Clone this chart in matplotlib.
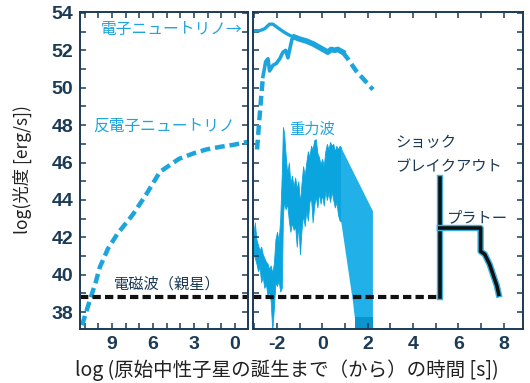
import matplotlib
matplotlib.use('Agg')
import matplotlib.pyplot as plt
import matplotlib.patheffects as pe
from matplotlib.ticker import MultipleLocator
import numpy as np

plt.rcParams['axes.unicode_minus'] = False

CJK = ['Noto Sans CJK JP', 'DejaVu Sans']
NAVY = '#1b3a55'
CYAN = '#1ca5dd'
GWC = '#0aa5df'

# anti-electron neutrino before birth (left panel, log time before birth)
anti_pre_x = [11.2, 10.9, 10.6, 10.2, 9.9, 9.3, 8.6, 7.5, 6.5, 5.5, 4.1, 3.0, 2.1, 1.0, 0.1, -0.9]
anti_pre_y = [37.3, 38.0, 38.7, 39.6, 40.4, 41.4, 42.2, 43.2, 44.3, 45.5, 46.2, 46.5, 46.7, 46.85, 46.95, 47.1]

# anti-electron neutrino after birth
anti_dash_x = [-2.88, -2.8, -2.7, -2.62]
anti_dash_y = [46.7, 48.0, 49.5, 50.6]
anti_x = [-2.62, -2.5, -2.4, -2.33, -2.18, -2.03, -1.88, -1.74, -1.62, -1.52, -1.44, -1.34, -1.22]
anti_y = [50.6, 51.4, 51.55, 50.9, 51.2, 51.3, 51.55, 51.9, 52.0, 51.6, 52.05, 52.6, 52.7]

# electron neutrino
enu_x = [-3.06, -2.77, -2.55, -2.33, -2.18, -1.96, -1.66, -1.44, -1.22]
enu_y = [53.05, 53.05, 53.15, 53.4, 53.4, 53.2, 52.95, 52.8, 52.7]

# both neutrino species together
both_x = [-1.22, -1.0, -0.71, -0.42, -0.12, 0.1, 0.24, 0.39, 0.54, 0.68, 0.9]
both_y = [52.7, 52.6, 52.5, 52.35, 52.15, 52.0, 51.9, 52.05, 52.0, 52.05, 51.9]
both_dash_x = [0.9, 1.12, 1.49, 1.86, 2.23]
both_dash_y = [51.9, 51.55, 50.9, 50.4, 49.9]

# gravitational waves (upper / lower envelope)
gw_x = [-3.05, -2.98, -2.91, -2.84, -2.77, -2.70, -2.63, -2.56, -2.49, -2.42, -2.35, -2.28,
        -2.21, -2.14, -2.07, -2.00, -1.93, -1.86, -1.79, -1.74, -1.69, -1.62, -1.55, -1.48,
        -1.41, -1.34, -1.27, -1.20, -1.13, -1.06, -0.99, -0.92, -0.85, -0.78, -0.71, -0.64,
        -0.57, -0.50, -0.43, -0.36, -0.29, -0.22, -0.15, -0.08, -0.01, 0.06, 0.13, 0.20,
        0.27, 0.34, 0.41, 0.48, 0.55, 0.62, 0.69, 0.76, 0.83]
gw_hi = [42.0, 42.8, 41.9, 41.6, 41.3, 41.5, 41.1, 40.9, 40.7, 40.6, 40.3, 40.5,
         40.1, 40.6, 41.9, 42.3, 41.8, 43.0, 45.4, 47.9, 47.6, 46.4, 45.4, 46.0,
         44.9, 45.3, 44.7, 45.2, 44.6, 45.0, 43.8, 44.9, 45.8, 45.3, 46.0, 46.6,
         46.3, 46.9, 46.7, 47.2, 47.25, 46.5, 46.3, 45.9, 46.2, 45.8, 46.6, 47.0,
         46.7, 47.1, 46.9, 47.0, 46.6, 46.9, 46.7, 46.9, 46.8]
gw_lo = [41.2, 40.9, 40.6, 40.2, 40.4, 39.6, 39.9, 39.3, 39.5, 38.9, 39.1, 38.6,
         37.0, 38.2, 39.6, 39.4, 39.7, 39.1, 39.3, 43.2, 43.9, 43.5, 43.8, 42.9,
         42.3, 42.8, 42.4, 42.6, 41.5, 42.7, 41.1, 42.4, 43.2, 42.6, 43.4, 42.9,
         43.9, 44.1, 42.8, 43.7, 44.2, 43.6, 44.4, 43.8, 44.3, 43.7, 44.5, 44.0,
         44.4, 43.9, 44.45, 44.0, 43.6, 43.9, 43.2, 42.9, 42.85]
band_x = [0.83, 2.23, 2.23, 1.55, 1.35, 0.83]
band_y = [46.8, 43.4, 36.5, 36.5, 38.55, 42.85]

# electromagnetic (progenitor) and shock breakout / plateau
em_level = 38.8
em_dash_end = 5.18
sb_x = [5.18, 5.18]
sb_y = [em_level, 45.2]
pl_x = [5.18, 6.98, 6.98, 7.16, 7.38, 7.56, 7.7, 7.78]
pl_y = [42.5, 42.5, 41.25, 41.1, 40.55, 39.9, 39.4, 38.95]

fig = plt.figure(figsize=(5.3, 3.83), dpi=100)
axL = fig.add_axes([80/530, 1-329/383, 168/530, 317/383])
axR = fig.add_axes([253/530, 1-329/383, 270/530, 317/383])

axL.set_xlim(11.35, -0.95)
axR.set_xlim(-3.06, 8.85)
axL.xaxis.set_major_locator(MultipleLocator(3))
axR.xaxis.set_major_locator(MultipleLocator(2))
for ax in (axL, axR):
    ax.set_ylim(37.1, 54.05)
    for s in ax.spines.values():
        s.set_color(NAVY)
        s.set_linewidth(1.4)
    ax.yaxis.set_major_locator(MultipleLocator(2))
    ax.yaxis.set_minor_locator(MultipleLocator(1))
    ax.xaxis.set_minor_locator(MultipleLocator(1))
    ax.tick_params(which='both', direction='in', top=True, right=True,
                   color=NAVY, width=1.1, length=4)
    ax.tick_params(axis='both', labelsize=14, labelcolor=NAVY, pad=5)
axR.tick_params(labelleft=False)
for ax in (axL, axR):
    for lab in ax.get_xticklabels() + ax.get_yticklabels():
        lab.set_fontweight('bold')
        lab.set_family('Liberation Sans')

# left panel
axL.plot(anti_pre_x, anti_pre_y, color=CYAN, lw=3.2, dashes=(2.2, 1.1))
axL.plot([11.35, -0.95], [em_level, em_level], color='#111111', lw=3, dashes=(2, 1))

# right panel
axR.fill_between(gw_x, gw_lo, gw_hi, color=GWC, lw=0.6, edgecolor=GWC)
axR.fill(band_x, band_y, color='#22b0e8', lw=0)
axR.fill_between([1.43, 2.23], [36.5, 36.5], [37.75, 37.75], color='#0b95cf', lw=0)

axR.plot(anti_dash_x, anti_dash_y, color=CYAN, lw=3.2, dashes=(2.2, 1.1))
axR.plot(anti_x, anti_y, color=CYAN, lw=2.6, solid_joinstyle='round')
axR.plot(enu_x, enu_y, color=CYAN, lw=2.4, solid_joinstyle='round')
axR.plot(both_x, both_y, color=CYAN, lw=4, solid_joinstyle='round')
axR.plot(both_dash_x, both_dash_y, color=CYAN, lw=3.2, dashes=(2.2, 1.1))

axR.plot([-3.06, em_dash_end], [em_level, em_level], color='#111111', lw=3, dashes=(2, 1))
outline = [pe.Stroke(linewidth=4.6, foreground='#3ab2e2'), pe.Normal()]
axR.plot(sb_x, sb_y, color='#111111', lw=2.6, path_effects=outline)
axR.plot(pl_x, pl_y, color='#111111', lw=2.6, path_effects=outline)

# labels
axL.text(9.8, 53.1, '電子ニュートリノ→', family=CJK, fontsize=11.3, color=CYAN, ha='left', va='center')
axL.text(10.4, 47.95, '反電子ニュートリノ', family=CJK, fontsize=11.3, color=CYAN, ha='left', va='center')
axL.text(8.9, 39.5, '電磁波（親星）', family=CJK, fontsize=11, color=NAVY, ha='left', va='center')
axR.text(-1.45, 47.8, '重力波', family=CJK, fontsize=11, color=CYAN, ha='left', va='center')
axR.text(3.2, 47.1, 'ショック', family=CJK, fontsize=11, color=NAVY, ha='left', va='center')
axR.text(3.2, 45.75, 'ブレイクアウト', family=CJK, fontsize=11, color=NAVY, ha='left', va='center')
axR.text(5.5, 43.05, 'プラトー', family=CJK, fontsize=11, color=NAVY, ha='left', va='center')

fig.text(22/530, 1-170/383, 'log(光度 [erg/s])', family=CJK, fontsize=12.5, color='#222222',
         rotation=90, ha='center', va='center')
fig.text(287/530, 1-370/383, 'log (原始中性子星の誕生まで（から）の時間 [s])', family=CJK,
         fontsize=14, color='#222222', ha='center', va='center')

fig.savefig('out.png', dpi=100)
